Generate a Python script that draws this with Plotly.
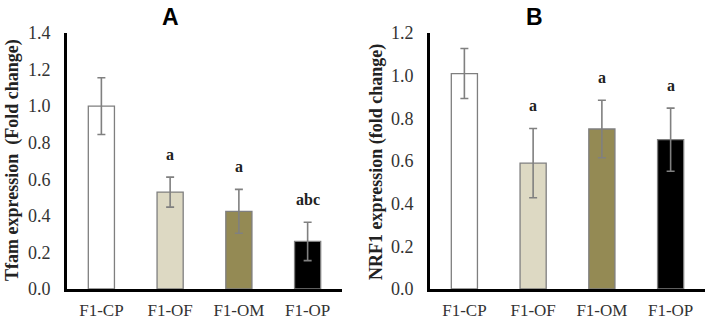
import plotly.graph_objects as go

categories = ["F1-CP", "F1-OF", "F1-OM", "F1-OP"]
bar_colors = ["#ffffff", "#ddd9c3", "#948a54", "#000000"]

tfam_values = [1.00, 0.53, 0.425, 0.26]
tfam_errors = [0.155, 0.082, 0.12, 0.105]
tfam_letters = ["", "a", "a", "abc"]

nrf1_values = [1.01, 0.59, 0.75, 0.70]
nrf1_errors = [0.117, 0.162, 0.135, 0.148]
nrf1_letters = ["", "a", "a", "a"]

W, H = 708, 321
SERIF = "Liberation Serif, Times New Roman, serif"
SANS = "Liberation Sans, Arial, sans-serif"


def px_x(p):
    return p / W


def px_y(p):
    return 1 - p / H


fig = go.Figure()

panels = [
    ("x", "y", tfam_values, tfam_errors, tfam_letters),
    ("x2", "y2", nrf1_values, nrf1_errors, nrf1_letters),
]
for xa, ya, vals, errs, letters in panels:
    fig.add_trace(go.Bar(
        x=categories, y=vals, xaxis=xa, yaxis=ya,
        marker=dict(color=bar_colors, line=dict(color="#7f7f7f", width=1.3)),
        error_y=dict(type="data", array=errs, visible=True,
                     color="#808080", thickness=1.6, width=4),
        width=0.38, showlegend=False, hoverinfo="skip",
    ))
    for c, v, e, t in zip(categories, vals, errs, letters):
        if t:
            fig.add_annotation(
                x=c, y=v + e, xref=xa, yref=ya, text="<b>" + t + "</b>",
                showarrow=False, yanchor="middle", yshift=23,
                font=dict(family=SERIF, size=16, color="#222222"),
            )

common_x = dict(
    showline=True, linecolor="black", linewidth=3, ticks="",
    tickfont=dict(family=SERIF, size=17, color="#333333"),
    ticklabelstandoff=4, showgrid=False, zeroline=False, automargin=False,
)
common_y = dict(
    showline=True, linecolor="black", linewidth=3, ticks="",
    tickfont=dict(family=SERIF, size=18, color="#333333"),
    ticklabelstandoff=10, showgrid=False, zeroline=False, automargin=False,
    tickformat=".1f",
)

fig.update_layout(
    width=W, height=H, autosize=False,
    margin=dict(l=0, r=0, t=0, b=0, pad=0, autoexpand=False),
    paper_bgcolor="white", plot_bgcolor="white",
    bargap=0.62,
    xaxis=dict(domain=[px_x(67), px_x(342)], anchor="y", **common_x),
    yaxis=dict(domain=[px_y(289), px_y(33)], anchor="x", range=[0, 1.4],
               dtick=0.2, **common_y),
    xaxis2=dict(domain=[px_x(430), px_x(705)], anchor="y2", **common_x),
    yaxis2=dict(domain=[px_y(289), px_y(33)], anchor="x2", range=[0, 1.2],
                dtick=0.2, **common_y),
)

# Panel titles
fig.add_annotation(x=px_x(170), y=px_y(17), xref="paper", yref="paper",
                   text="<b>A</b>", showarrow=False, xanchor="center", yanchor="middle",
                   font=dict(family=SANS, size=23, color="black"))
fig.add_annotation(x=px_x(534), y=px_y(17), xref="paper", yref="paper",
                   text="<b>B</b>", showarrow=False, xanchor="center", yanchor="middle",
                   font=dict(family=SANS, size=23, color="black"))

# Y axis titles
fig.add_annotation(x=px_x(12), y=px_y(160), xref="paper", yref="paper",
                   text="<b>Tfam expression  (Fold change)</b>", textangle=-90,
                   showarrow=False, xanchor="center", yanchor="middle",
                   font=dict(family=SERIF, size=18, color="#222222"))
fig.add_annotation(x=px_x(377), y=px_y(162), xref="paper", yref="paper",
                   text="<b>NRF1 expression (fold change)</b>", textangle=-90,
                   showarrow=False, xanchor="center", yanchor="middle",
                   font=dict(family=SERIF, size=18, color="#222222"))

fig.write_html(
    "out.html",
    config={"displayModeBar": False, "responsive": False},
    post_script="document.body.style.margin='0';document.body.style.padding='0';"
                "document.documentElement.style.overflow='hidden';",
)
